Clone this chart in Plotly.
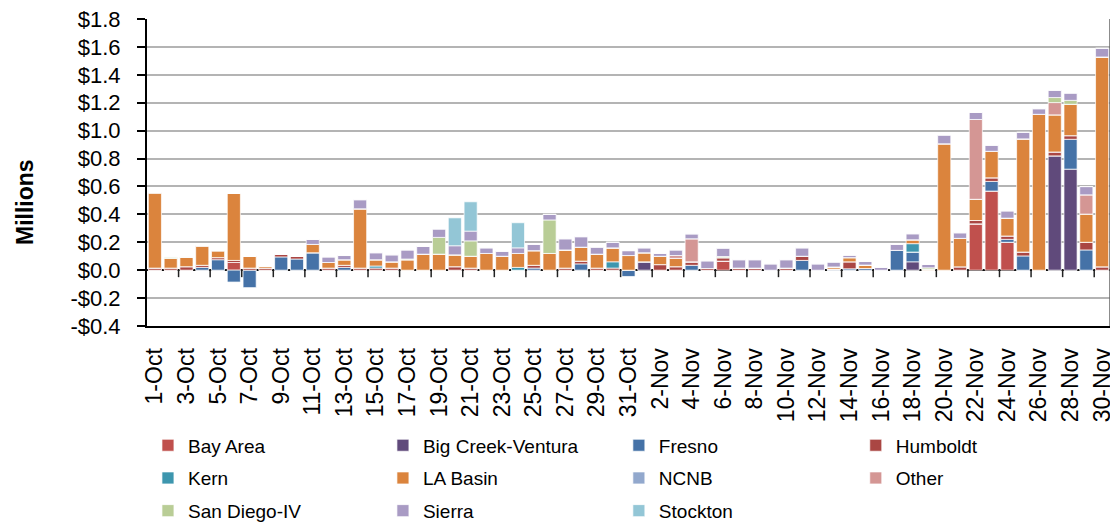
import plotly.graph_objects as go

dates = [f"{d}-Oct" for d in range(1, 32)] + [f"{d}-Nov" for d in range(1, 31)]

bay_area = [0, 0, 0, 0, 0, 0.055, 0, 0, 0, 0,
            0, 0, 0, 0, 0, 0, 0, 0, 0, 0,
            0, 0, 0, 0, 0, 0, 0, 0, 0, 0,
            0, 0, 0, 0, 0, 0, 0.065, 0, 0, 0,
            0, 0, 0, 0, 0, 0, 0, 0, 0, 0,
            0, 0, 0.332, 0.567, 0.2, 0, 0, 0, 0, 0,
            0]
big_creek = [0, 0, 0, 0, 0, 0, 0, 0, 0, 0,
             0, 0, 0, 0, 0, 0, 0, 0, 0, 0,
             0, 0, 0, 0, 0, 0, 0, 0, 0, 0,
             0, 0.06, 0, 0, 0, 0, 0, 0, 0, 0,
             0, 0, 0, 0, 0, 0, 0, 0, 0.06, 0,
             0, 0, 0, 0, 0, 0, 0, 0.819, 0.724, 0,
             0]
fresno = [0, 0, 0, 0.02, 0.075, -0.085, -0.125, 0, 0.095, 0.08,
          0.125, 0, 0.02, 0, 0, 0, 0, 0, 0, 0,
          0, 0, 0, 0, 0.015, 0, 0, 0.045, 0, 0,
          -0.045, 0, 0, 0, 0.035, 0, 0, 0, 0, 0,
          0, 0.07, 0, 0.005, 0.01, 0.012, 0, 0.142, 0.07, 0,
          0, 0, 0, 0.069, 0.021, 0.102, 0, 0, 0.214, 0.145,
          0]
humboldt = [0.015, 0.015, 0.025, 0.015, 0.015, 0.015, 0.015, 0.015, 0.02, 0.02,
            0, 0.015, 0.015, 0.015, 0.015, 0.015, 0, 0, 0, 0.025,
            0.015, 0, 0, 0, 0.02, 0, 0.015, 0.02, 0.015, 0.015,
            0, 0, 0.04, 0.025, 0.025, 0.012, 0.025, 0.015, 0.015, 0,
            0.015, 0.03, 0, 0.003, 0.05, 0, 0, 0, 0, 0,
            0, 0.024, 0.024, 0.026, 0.024, 0.028, 0, 0.028, 0.026, 0.055,
            0.024]
kern = [0, 0, 0, 0, 0, 0, 0, 0, 0, 0,
        0, 0, 0, 0, 0.015, 0, 0, 0, 0, 0,
        0, 0, 0, 0.02, 0, 0, 0, 0, 0, 0.045,
        0, 0, 0, 0, 0, 0, 0, 0, 0, 0,
        0, 0, 0, 0, 0, 0, 0, 0, 0.06, 0,
        0, 0, 0, 0, 0, 0, 0, 0, 0, 0,
        0]
la_basin = [0.54, 0.07, 0.07, 0.14, 0.05, 0.48, 0.085, 0.015, 0, 0,
            0.06, 0.04, 0.04, 0.425, 0.045, 0.045, 0.075, 0.115, 0.115, 0.085,
            0.085, 0.12, 0.10, 0.10, 0.105, 0.12, 0.13, 0.10, 0.10, 0.10,
            0.105, 0.065, 0.06, 0.06, 0, 0, 0, 0, 0, 0,
            0, 0, 0, 0.015, 0.03, 0.025, 0, 0, 0.028, 0.007,
            0.906, 0.204, 0.152, 0.19, 0.128, 0.811, 1.117, 0.266, 0.225, 0.202,
            1.504]
ncnb = [0] * 61
other = [0, 0, 0, 0, 0, 0, 0, 0, 0, 0,
         0, 0, 0, 0, 0, 0, 0, 0, 0, 0,
         0, 0, 0, 0, 0, 0, 0, 0, 0, 0,
         0, 0, 0, 0.02, 0.165, 0, 0, 0, 0, 0,
         0, 0, 0, 0, 0, 0, 0, 0, 0, 0,
         0, 0, 0.572, 0, 0, 0, 0, 0.088, 0, 0.138,
         0]
san_diego = [0, 0.01, 0, 0, 0, 0, 0, 0, 0, 0,
             0, 0, 0, 0, 0, 0, 0.005, 0, 0.12, 0,
             0.11, 0, 0, 0, 0, 0.24, 0, 0, 0, 0,
             0, 0, 0, 0, 0, 0, 0.008, 0, 0, 0,
             0, 0, 0, 0, 0, 0, 0, 0, 0, 0.01,
             0, 0, 0, 0, 0, 0, 0, 0.036, 0.028, 0,
             0]
sierra = [0, 0, 0, 0, 0, 0, 0, 0, 0, 0,
          0.035, 0.04, 0.03, 0.065, 0.05, 0.05, 0.065, 0.055, 0.06, 0.065,
          0.07, 0.04, 0.035, 0.04, 0.045, 0.04, 0.08, 0.075, 0.05, 0.04,
          0.035, 0.035, 0.02, 0.04, 0.035, 0.055, 0.06, 0.06, 0.06, 0.045,
          0.06, 0.06, 0.045, 0.035, 0.017, 0.025, 0.02, 0.043, 0.043, 0.024,
          0.062, 0.04, 0.05, 0.043, 0.052, 0.047, 0.04, 0.052, 0.052, 0.059,
          0.062]
stockton = [0, 0, 0, 0, 0, 0, 0, 0, 0, 0,
            0, 0, 0, 0, 0, 0, 0, 0, 0, 0.20,
            0.21, 0, 0, 0.18, 0, 0, 0, 0, 0, 0,
            0, 0, 0, 0, 0, 0, 0, 0, 0, 0,
            0, 0, 0, 0, 0, 0, 0, 0, 0, 0,
            0, 0, 0, 0, 0, 0, 0, 0, 0, 0,
            0]

series_names = ["Bay Area", "Big Creek-Ventura", "Fresno", "Humboldt", "Kern", "LA Basin",
                "NCNB", "Other", "San Diego-IV", "Sierra", "Stockton"]
series_values = [bay_area, big_creek, fresno, humboldt, kern, la_basin,
                 ncnb, other, san_diego, sierra, stockton]
colors = ["#C0504D", "#604A7B", "#4572A7", "#AA4643", "#3D96AE", "#DB843D",
          "#92A8CD", "#D49694", "#B9CD96", "#A99BC4", "#93C6D6"]
legend_ids = ["legend", "legend2", "legend3", "legend4"]

y_tick_vals = [-0.4, -0.2, 0.0, 0.2, 0.4, 0.6, 0.8, 1.0, 1.2, 1.4, 1.6, 1.8]
y_tick_text = [("-$" if v < 0 else "$") + f"{abs(v):.1f}" for v in y_tick_vals]

fig = go.Figure()
for i, (name, vals, col) in enumerate(zip(series_names, series_values, colors)):
    fig.add_trace(go.Bar(
        x=dates, y=vals, name=name,
        marker=dict(color=col, line=dict(color="rgba(255,255,255,0.7)", width=1)),
        legend=legend_ids[i % 4], legendgroup=name,
    ))

# boundary tick marks on the category axis at the zero line
for k in range(1, 61, 2):
    fig.add_shape(type="line", xref="x", yref="y", x0=k + 0.5, x1=k + 0.5, y0=0, y1=-0.05,
                  line=dict(color="#222", width=1.5), layer="above")
# right border
fig.add_shape(type="line", xref="paper", yref="paper", x0=1, x1=1, y0=0, y1=1,
              line=dict(color="#666", width=1.5))

font_family = "Liberation Sans, Arial, sans-serif"
legend_common = dict(orientation="v", font=dict(size=19, family=font_family, color="#000"),
                     bgcolor="rgba(0,0,0,0)", yanchor="top", y=-0.327, xanchor="left",
                     traceorder="grouped", tracegroupgap=5)
col_x = [0.0010, 0.2450, 0.4900, 0.7360]

fig.update_layout(
    template="none",
    width=1110, height=517,
    margin=dict(l=139, r=8, t=11, b=199, autoexpand=False),
    paper_bgcolor="white", plot_bgcolor="white",
    barmode="relative", bargap=0.17,
    font=dict(family=font_family, color="#000"),
    showlegend=True,
    legend=dict(legend_common, x=col_x[0]),
    legend2=dict(legend_common, x=col_x[1]),
    legend3=dict(legend_common, x=col_x[2]),
    legend4=dict(legend_common, x=col_x[3]),
    xaxis=dict(type="category", tickmode="array", tickvals=dates[::2], ticktext=dates[::2],
               tickangle=-90, ticks="", tickfont=dict(size=23, family=font_family),
               showline=True, linecolor="#000", linewidth=2, showgrid=False, automargin=False,
               range=[-0.5, 60.5], ticklabelstandoff=11, zeroline=False),
    yaxis=dict(range=[-0.4, 1.8], tickmode="array", tickvals=y_tick_vals, ticktext=y_tick_text,
               ticks="outside", ticklen=8, tickwidth=1.5, tickcolor="#000", automargin=False,
               tickfont=dict(size=22, family=font_family), ticklabelstandoff=12,
               ticklabeloverflow="allow",
               showline=True, linecolor="#000", linewidth=2,
               showgrid=True, gridcolor="#B4B4B4", gridwidth=1.5,
               zeroline=True, zerolinecolor="#111", zerolinewidth=2),
    annotations=[dict(text="<b>Millions</b>", textangle=-90, xref="paper", yref="paper",
                      x=-0.1265, y=0.4045, xanchor="center", yanchor="middle", showarrow=False,
                      borderpad=0,
                      font=dict(size=23, family=font_family, color="#000"))],
)

fig.write_html("out.html")
